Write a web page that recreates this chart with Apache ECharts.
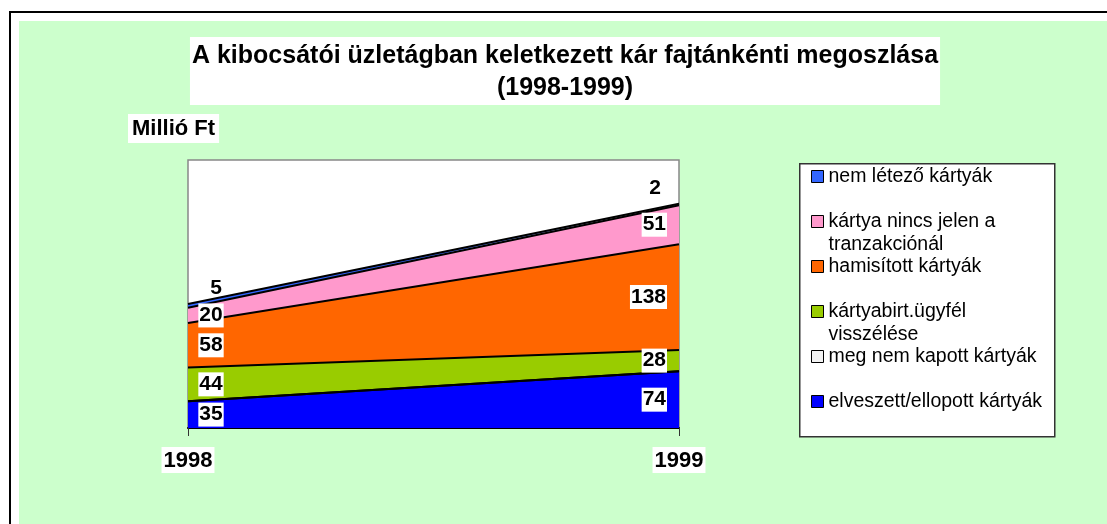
<!DOCTYPE html>
<html><head><meta charset="utf-8">
<script src="https://cdn.jsdelivr.net/npm/echarts@6/dist/echarts.min.js"></script>
<style>
html,body{margin:0;padding:0;background:#fff;overflow:hidden;width:1107px;height:524px;}
#frame{position:absolute;left:9px;top:11px;width:1200px;height:600px;border-left:2px solid #000;border-top:2px solid #000;}
#bg{position:absolute;left:19px;top:21px;width:1200px;height:600px;background:#CCFFCC;}
#chart{position:absolute;left:0;top:0;width:1107px;height:524px;}
</style></head><body>
<div id="frame"></div><div id="bg"></div><div id="chart"></div>
<script>
const titleText = 'A kibocsátói üzletágban keletkezett kár fajtánkénti megoszlása\n(1998-1999)';
const unitLabel = 'Millió Ft';
const categories = ['1998', '1999'];
const seriesNames = ['elveszett/ellopott kártyák', 'meg nem kapott kártyák', 'kártyabirt.ügyfél visszélése', 'hamisított kártyák', 'kártya nincs jelen a tranzakciónál', 'nem létező kártyák'];
const elveszett = [35, 74];
const megNemKapott = [0, 0];
const kartyabirt = [44, 28];
const hamisitott = [58, 138];
const nincsJelen = [20, 51];
const nemLetezo = [5, 2];
const seriesColors = ['#0000FF', '#FFFFFF', '#99CC00', '#FF6600', '#FF99CC', '#3366FF'];

const FONT = "'Liberation Sans', Arial, sans-serif";
const values = [elveszett, megNemKapott, kartyabirt, hamisitott, nincsJelen, nemLetezo];

function wrap(s, max) {
  const lines = [''];
  s.split(' ').forEach(w => {
    const cur = lines[lines.length - 1];
    if (cur && (cur + ' ' + w).length > max) lines.push(w);
    else lines[lines.length - 1] = cur ? cur + ' ' + w : w;
  });
  return lines;
}

const areaSeries = seriesNames.map((name, k) => ({
  name, type: 'line', stack: 'total', data: values[k],
  symbol: 'none', showSymbol: false,
  lineStyle: { color: '#000', width: 2 },
  areaStyle: { color: seriesColors[k], opacity: 1 },
  z: 2
}));

// label points computed from the data
const cum = categories.map(() => 0);
const midPts = categories.map(() => []);
values.forEach((arr, k) => {
  arr.forEach((v, i) => {
    const base = cum[i];
    cum[i] += v;
    if (v > 0 && k < values.length - 1) midPts[i].push({ value: [i, base + v / 2], v });
  });
});
const topPts = values[values.length - 1].map((v, i) => ({ value: [i, cum[i]], v }));

const labelBase = {
  show: true, color: '#000', fontWeight: 'bold', fontSize: 21, fontFamily: FONT,
  formatter: p => String(p.data.v)
};
function lblSeries(data, label) {
  return { type: 'scatter', data, symbolSize: 0, z: 10, silent: true,
    itemStyle: { opacity: 1, color: 'transparent' },
    label: Object.assign({}, labelBase, label) };
}
const labelSeries = [
  lblSeries(midPts[0], { position: 'inside', offset: [23, 0], backgroundColor: '#fff', padding: [2, 1, 1, 1] }),
  lblSeries(midPts[1], { position: 'inside', align: 'right', offset: [-12, 0], backgroundColor: '#fff', padding: [2, 1, 1, 1] }),
  lblSeries([topPts[0]], { position: 'top', distance: 5, offset: [28, 0] }),
  lblSeries([topPts[1]], { position: 'top', distance: 5, offset: [-24, 0] })
];

const legendColors = seriesColors.slice();
legendColors[1] = '#F2F2F2';

const chart = echarts.init(document.getElementById('chart'));
chart.setOption({
  animation: false,
  title: [{
    text: titleText, left: 563, top: 37, textAlign: 'center', padding: [3, 2, 1, 2], backgroundColor: '#fff',
    textStyle: { fontSize: 25, fontWeight: 'bold', fontFamily: FONT, lineHeight: 32, color: '#000' }
  }, {
    text: unitLabel, left: 128, top: 114, padding: [3, 4, 2, 4], backgroundColor: '#fff',
    textStyle: { fontSize: 22, fontWeight: 'bold', fontFamily: FONT, lineHeight: 24, color: '#000' }
  }],
  grid: { left: 188, right: 428, top: 160, bottom: 96, show: true, backgroundColor: '#fff', borderColor: '#888', borderWidth: 1.5, containLabel: false, outerBoundsMode: 'none' },
  xAxis: {
    type: 'category', data: categories, boundaryGap: false,
    axisLine: { lineStyle: { color: '#000', width: 2 } },
    axisTick: { show: true, length: 8, lineStyle: { color: '#333', width: 1 } },
    axisLabel: { margin: 19, fontSize: 22, fontWeight: 'bold', fontFamily: FONT, color: '#000', backgroundColor: '#fff', padding: [3, 2, 1, 2], showMinLabel: true, showMaxLabel: true },
    splitLine: { show: false }
  },
  yAxis: { type: 'value', min: 0, max: 350, show: false, splitLine: { show: false } },
  legend: {
    orient: 'vertical', left: 811, top: 142, padding: 0, itemGap: -24, itemWidth: 12, itemHeight: 12, icon: 'rect',
    selectedMode: false,
    data: seriesNames.map((n, k) => ({ name: n, itemStyle: { color: legendColors[k] } })).reverse(),
    formatter: n => { const l = wrap(n, 26); return '\n' + l[0] + '\n' + (l[1] || ' '); },
    textStyle: { fontSize: 19.5, lineHeight: 23, fontFamily: FONT, color: '#000' },
    itemStyle: { borderColor: '#000', borderWidth: 1 }
  },
  graphic: [{ type: 'rect', left: 799, top: 163, shape: { width: 255, height: 273 }, style: { fill: '#fff', stroke: '#333', lineWidth: 1.5 }, z: 0 }],
  series: areaSeries.concat(labelSeries)
});
</script></body></html>
